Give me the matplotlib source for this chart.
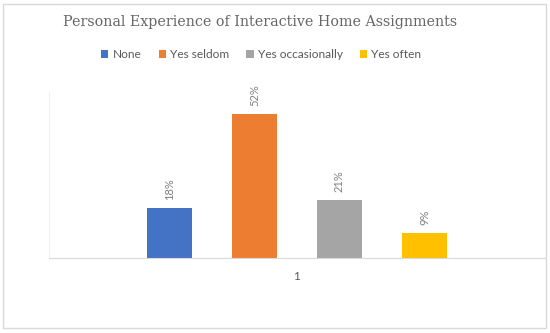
import matplotlib
matplotlib.use("Agg")
import matplotlib.pyplot as plt
from matplotlib.patches import Rectangle

categories = ["None", "Yes seldom", "Yes occasionally", "Yes often"]
values = [0.18, 0.52, 0.21, 0.09]
labels = ["18%", "52%", "21%", "9%"]
colors = ["#4472C4", "#ED7D31", "#A5A5A5", "#FFC000"]
xtick_labels = ["1"]
title = "Personal Experience of Interactive Home Assignments"

fig = plt.figure(figsize=(5.5, 3.33), dpi=100)
fig.patches.append(Rectangle((3/550, 5/333), 543/550, 324/333, transform=fig.transFigure,
                             fill=False, edgecolor="#D9D9D9", linewidth=1))
ax = fig.add_axes([49/550, 75/333, 496/550, 166/333])

offsets = [-1.5, -0.5, 0.5, 1.5]
for o, v, c, lab, cat in zip(offsets, values, colors, labels, categories):
    ax.bar(o, v, width=45/85, color=c, label=cat)
    ax.text(o, v + 0.03, lab, rotation=90, ha="center", va="bottom",
            fontsize=8, family="Lato", color="#7F7F7F")

ax.set_xlim(-(297 - 49) / 85, (545 - 297) / 85)
ax.set_ylim(0, 0.6)
ax.set_xticks([0])
ax.set_xticklabels(xtick_labels, fontsize=8.5, family="Lato", color="#595959")
ax.tick_params(axis="x", length=0, pad=9)
ax.set_yticks([])
for s in ["top", "right"]:
    ax.spines[s].set_visible(False)
ax.spines["bottom"].set_color("#D9D9D9")
ax.spines["left"].set_color("#F0F0F0")

fig.text(0.4736, 1 - 22/333, title, ha="center", va="center", fontsize=10.3,
         family="DejaVu Serif", color="#666666")
leg = fig.legend(loc="center", bbox_to_anchor=(0.475, 1 - 55/333), ncol=4, frameon=False,
                 prop={"family": "Lato", "size": 8.6}, handlelength=0.6, handleheight=0.6,
                 handletextpad=0.35, columnspacing=1.45, labelcolor="#595959")
fig.savefig("out.png", dpi=100)
